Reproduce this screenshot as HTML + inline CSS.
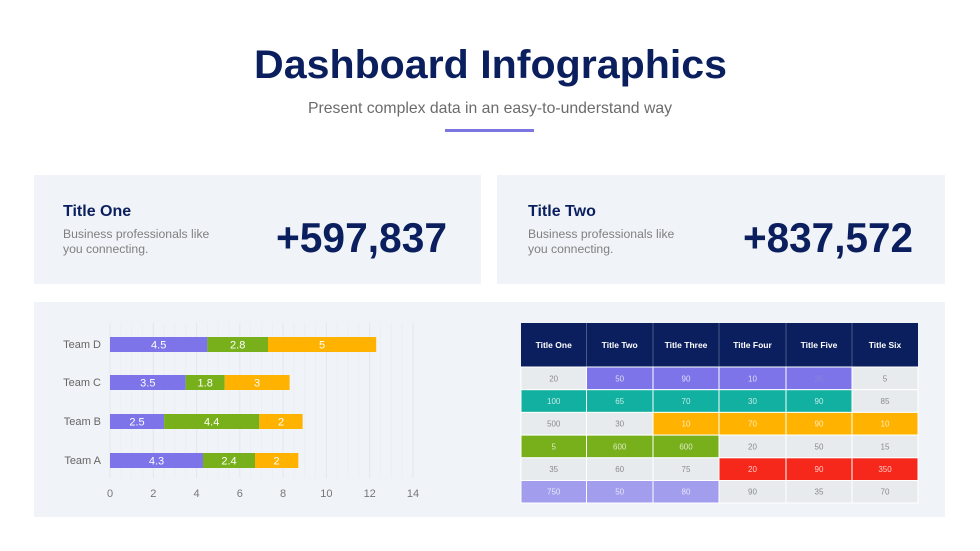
<!DOCTYPE html>
<html><head><meta charset="utf-8"><style>
html,body{margin:0;padding:0;background:#fff;}
svg{display:block;}
text{font-family:"Liberation Sans",sans-serif;}
</style></head><body>
<svg width="980" height="551" viewBox="0 0 980 551" xmlns="http://www.w3.org/2000/svg">
<rect width="980" height="551" fill="#fff"/>
<!-- header -->
<text x="254" y="78" font-size="40" font-weight="bold" fill="#0b1f5e" textLength="473" lengthAdjust="spacingAndGlyphs">Dashboard Infographics</text>
<text x="308" y="113" font-size="16" fill="#6b6b6b" textLength="364" lengthAdjust="spacingAndGlyphs">Present complex data in an easy-to-understand way</text>
<rect x="445" y="129" width="89" height="3" fill="#7b76e0"/>

<!-- cards -->
<rect x="34" y="175" width="447" height="109" fill="#f0f3f7"/>
<rect x="497" y="175" width="448" height="109" fill="#f0f3f7"/>
<text x="63" y="216" font-size="16" font-weight="bold" fill="#0b1f5e">Title One</text>
<text x="63" y="238" font-size="12.2" fill="#808080">Business professionals like</text>
<text x="63" y="253" font-size="12.2" fill="#808080">you connecting.</text>
<text x="276" y="252" font-size="42" font-weight="bold" fill="#0b1f5e" textLength="171" lengthAdjust="spacingAndGlyphs">+597,837</text>
<text x="528" y="216" font-size="16" font-weight="bold" fill="#0b1f5e">Title Two</text>
<text x="528" y="238" font-size="12.2" fill="#808080">Business professionals like</text>
<text x="528" y="253" font-size="12.2" fill="#808080">you connecting.</text>
<text x="743" y="252" font-size="42" font-weight="bold" fill="#0b1f5e" textLength="170" lengthAdjust="spacingAndGlyphs">+837,572</text>

<!-- bottom panel -->
<rect x="34" y="302" width="911" height="215" fill="#f0f3f7"/>

<!-- chart grid -->
<g stroke="#ebeef2" stroke-width="0.8">
<line x1="120.8" y1="323" x2="120.8" y2="478"/><line x1="131.6" y1="323" x2="131.6" y2="478"/><line x1="142.5" y1="323" x2="142.5" y2="478"/>
<line x1="164.1" y1="323" x2="164.1" y2="478"/><line x1="174.9" y1="323" x2="174.9" y2="478"/><line x1="185.7" y1="323" x2="185.7" y2="478"/>
<line x1="207.4" y1="323" x2="207.4" y2="478"/><line x1="218.2" y1="323" x2="218.2" y2="478"/><line x1="229.0" y1="323" x2="229.0" y2="478"/>
<line x1="250.6" y1="323" x2="250.6" y2="478"/><line x1="261.5" y1="323" x2="261.5" y2="478"/><line x1="272.3" y1="323" x2="272.3" y2="478"/>
<line x1="293.9" y1="323" x2="293.9" y2="478"/><line x1="304.7" y1="323" x2="304.7" y2="478"/><line x1="315.6" y1="323" x2="315.6" y2="478"/>
<line x1="337.2" y1="323" x2="337.2" y2="478"/><line x1="348.0" y1="323" x2="348.0" y2="478"/><line x1="358.9" y1="323" x2="358.9" y2="478"/>
<line x1="380.5" y1="323" x2="380.5" y2="478"/><line x1="391.3" y1="323" x2="391.3" y2="478"/><line x1="402.1" y1="323" x2="402.1" y2="478"/>
</g>
<g stroke="#e4e8ec" stroke-width="1">
<line x1="110" y1="323" x2="110" y2="478"/><line x1="153.3" y1="323" x2="153.3" y2="478"/><line x1="196.6" y1="323" x2="196.6" y2="478"/>
<line x1="239.8" y1="323" x2="239.8" y2="478"/><line x1="283.1" y1="323" x2="283.1" y2="478"/><line x1="326.4" y1="323" x2="326.4" y2="478"/>
<line x1="369.7" y1="323" x2="369.7" y2="478"/><line x1="413" y1="323" x2="413" y2="478"/>
</g>

<!-- bars -->
<g>
<rect x="110" y="337" width="97.4" height="15" fill="#7c74e8"/>
<rect x="207.4" y="337" width="60.6" height="15" fill="#78b01b"/>
<rect x="268" y="337" width="108.2" height="15" fill="#ffb300"/>
<rect x="110" y="375" width="75.7" height="15" fill="#7c74e8"/>
<rect x="185.7" y="375" width="39" height="15" fill="#78b01b"/>
<rect x="224.7" y="375" width="64.9" height="15" fill="#ffb300"/>
<rect x="110" y="414" width="54.1" height="15" fill="#7c74e8"/>
<rect x="164.1" y="414" width="95.2" height="15" fill="#78b01b"/>
<rect x="259.3" y="414" width="43.3" height="15" fill="#ffb300"/>
<rect x="110" y="453" width="93" height="15" fill="#7c74e8"/>
<rect x="203" y="453" width="52" height="15" fill="#78b01b"/>
<rect x="255" y="453" width="43.3" height="15" fill="#ffb300"/>
</g>
<g font-size="11" fill="#fff" text-anchor="middle">
<text x="158.7" y="348.5">4.5</text><text x="237.7" y="348.5">2.8</text><text x="322.1" y="348.5">5</text>
<text x="147.8" y="386.5">3.5</text><text x="205.2" y="386.5">1.8</text><text x="257.1" y="386.5">3</text>
<text x="137" y="425.5">2.5</text><text x="211.7" y="425.5">4.4</text><text x="281" y="425.5">2</text>
<text x="156.5" y="464.5">4.3</text><text x="229" y="464.5">2.4</text><text x="276.6" y="464.5">2</text>
</g>
<g font-size="11" fill="#666" text-anchor="end">
<text x="101" y="348">Team D</text><text x="101" y="386">Team C</text><text x="101" y="425">Team B</text><text x="101" y="464">Team A</text>
</g>
<g font-size="11" fill="#777" text-anchor="middle">
<text x="110" y="497">0</text><text x="153.3" y="497">2</text><text x="196.6" y="497">4</text><text x="239.8" y="497">6</text>
<text x="283.1" y="497">8</text><text x="326.4" y="497">10</text><text x="369.7" y="497">12</text><text x="413" y="497">14</text>
</g>

<!-- table -->
<rect x="521" y="323" width="397" height="44" fill="#0b1f5e"/>
<g stroke="#5a6a95" stroke-width="0.8">
<line x1="586.5" y1="323" x2="586.5" y2="367"/><line x1="653" y1="323" x2="653" y2="367"/><line x1="719" y1="323" x2="719" y2="367"/>
<line x1="786" y1="323" x2="786" y2="367"/><line x1="852" y1="323" x2="852" y2="367"/>
</g>
<g font-size="8.5" font-weight="bold" fill="#fff" text-anchor="middle">
<text x="553.7" y="348">Title One</text><text x="619.7" y="348">Title Two</text><text x="686" y="348">Title Three</text>
<text x="752.5" y="348">Title Four</text><text x="819" y="348">Title Five</text><text x="885" y="348">Title Six</text>
</g>
<g stroke="#fff" stroke-width="1">
<rect x="521" y="367" width="65.5" height="22.7" fill="#e8ebee"/>
<rect x="586.5" y="367" width="66.5" height="22.7" fill="#7c74e8"/>
<rect x="653" y="367" width="66" height="22.7" fill="#7c74e8"/>
<rect x="719" y="367" width="67" height="22.7" fill="#7c74e8"/>
<rect x="786" y="367" width="66" height="22.7" fill="#7c74e8"/>
<rect x="852" y="367" width="66" height="22.7" fill="#e8ebee"/>
<rect x="521" y="389.7" width="65.5" height="22.7" fill="#12b0a0"/>
<rect x="586.5" y="389.7" width="66.5" height="22.7" fill="#12b0a0"/>
<rect x="653" y="389.7" width="66" height="22.7" fill="#12b0a0"/>
<rect x="719" y="389.7" width="67" height="22.7" fill="#12b0a0"/>
<rect x="786" y="389.7" width="66" height="22.7" fill="#12b0a0"/>
<rect x="852" y="389.7" width="66" height="22.7" fill="#e8ebee"/>
<rect x="521" y="412.4" width="65.5" height="22.7" fill="#e8ebee"/>
<rect x="586.5" y="412.4" width="66.5" height="22.7" fill="#e8ebee"/>
<rect x="653" y="412.4" width="66" height="22.7" fill="#ffb300"/>
<rect x="719" y="412.4" width="67" height="22.7" fill="#ffb300"/>
<rect x="786" y="412.4" width="66" height="22.7" fill="#ffb300"/>
<rect x="852" y="412.4" width="66" height="22.7" fill="#ffb300"/>
<rect x="521" y="435.1" width="65.5" height="22.7" fill="#78b01b"/>
<rect x="586.5" y="435.1" width="66.5" height="22.7" fill="#78b01b"/>
<rect x="653" y="435.1" width="66" height="22.7" fill="#78b01b"/>
<rect x="719" y="435.1" width="67" height="22.7" fill="#e8ebee"/>
<rect x="786" y="435.1" width="66" height="22.7" fill="#e8ebee"/>
<rect x="852" y="435.1" width="66" height="22.7" fill="#e8ebee"/>
<rect x="521" y="457.8" width="65.5" height="22.7" fill="#e8ebee"/>
<rect x="586.5" y="457.8" width="66.5" height="22.7" fill="#e8ebee"/>
<rect x="653" y="457.8" width="66" height="22.7" fill="#e8ebee"/>
<rect x="719" y="457.8" width="67" height="22.7" fill="#f5281b"/>
<rect x="786" y="457.8" width="66" height="22.7" fill="#f5281b"/>
<rect x="852" y="457.8" width="66" height="22.7" fill="#f5281b"/>
<rect x="521" y="480.5" width="65.5" height="22.5" fill="#a29ded"/>
<rect x="586.5" y="480.5" width="66.5" height="22.5" fill="#a29ded"/>
<rect x="653" y="480.5" width="66" height="22.5" fill="#a29ded"/>
<rect x="719" y="480.5" width="67" height="22.5" fill="#e8ebee"/>
<rect x="786" y="480.5" width="66" height="22.5" fill="#e8ebee"/>
<rect x="852" y="480.5" width="66" height="22.5" fill="#e8ebee"/>
</g>
<g font-size="8" text-anchor="middle">
<g fill="#8a8a8a">
<text x="553.7" y="381.3">20</text><text x="885" y="381.3">5</text>
<text x="885" y="404">85</text>
<text x="553.7" y="426.7">500</text><text x="619.7" y="426.7">30</text>
<text x="752.5" y="449.4">20</text><text x="819" y="449.4">50</text><text x="885" y="449.4">15</text>
<text x="553.7" y="472.1">35</text><text x="619.7" y="472.1">60</text><text x="686" y="472.1">75</text>
<text x="752.5" y="494.7">90</text><text x="819" y="494.7">35</text><text x="885" y="494.7">70</text>
</g>
<g fill="#fff" fill-opacity="0.75">
<text x="619.7" y="381.3">50</text><text x="686" y="381.3">90</text><text x="752.5" y="381.3">10</text>
<text x="553.7" y="404">100</text><text x="619.7" y="404">65</text><text x="686" y="404">70</text><text x="752.5" y="404">30</text><text x="819" y="404">90</text>
<text x="686" y="426.7">10</text><text x="752.5" y="426.7">70</text><text x="819" y="426.7">90</text><text x="885" y="426.7">10</text>
<text x="553.7" y="449.4">5</text><text x="619.7" y="449.4">600</text><text x="686" y="449.4">600</text>
<text x="752.5" y="472.1">20</text><text x="819" y="472.1">90</text><text x="885" y="472.1">350</text>
<text x="553.7" y="494.7">750</text><text x="619.7" y="494.7">50</text><text x="686" y="494.7">80</text>
</g>
<text x="819" y="381.3" fill="#8a84d8">35</text>
</g>
</svg>
</body></html>
